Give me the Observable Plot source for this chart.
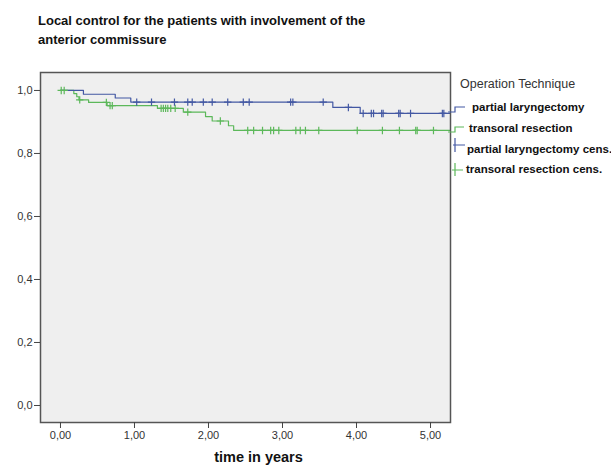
<!DOCTYPE html>
<html><head><meta charset="utf-8">
<script src="https://cdn.jsdelivr.net/npm/d3@7"></script>
<script src="https://cdn.jsdelivr.net/npm/@observablehq/plot@0.6"></script>
<style>
html,body{margin:0;padding:0;background:#fff;width:611px;height:468px;overflow:hidden;}
#wrap{position:relative;width:611px;height:468px;font-family:"Liberation Sans",Arial,sans-serif;}
#title{position:absolute;left:38px;top:11px;font-weight:bold;font-size:13px;line-height:19px;color:#111;white-space:nowrap;}
#chart{position:absolute;left:0;top:60px;}
#legend{position:absolute;left:440px;top:60px;overflow:visible;}
</style></head><body>
<div id="wrap">
<div id="title">Local control for the patients with involvement of the<br>anterior commissure</div>
<div id="chart"></div>
<svg id="legend" width="171" height="130"></svg>
</div>
<script>
// Kaplan-Meier step data (time in years, cumulative local control)
const blueTimes = [0, 0.31, 0.74, 0.95, 3.68, 4.05, 5.26];
const blueSurv  = [1.0, 0.988, 0.976, 0.963, 0.946, 0.927, 0.927];
const blueCens  = [1.03, 1.23, 1.54, 1.72, 1.78, 1.93, 2.05, 2.26, 2.47, 2.55, 3.11, 3.14, 3.55, 3.89, 4.09, 4.20, 4.23, 4.34, 4.36, 4.57, 4.59, 4.73, 5.16, 5.18];

const greenTimes = [0, 0.18, 0.22, 0.25, 0.38, 0.63, 1.31, 1.66, 1.96, 2.05, 2.27, 2.34, 5.26];
const greenSurv  = [1.0, 0.99, 0.98, 0.97, 0.962, 0.952, 0.943, 0.931, 0.917, 0.903, 0.888, 0.873, 0.873];
const greenCens  = [0.01, 0.05, 0.26, 0.62, 0.67, 0.70, 1.36, 1.39, 1.42, 1.45, 1.49, 1.55, 1.72, 2.16, 2.53, 2.61, 2.73, 2.84, 2.88, 2.95, 3.18, 3.24, 3.31, 3.49, 4.01, 4.35, 4.58, 4.80, 4.82, 5.04];

const xTicks = [0, 1, 2, 3, 4, 5];
const yTicks = [0, 0.2, 0.4, 0.6, 0.8, 1.0];

const seriesNames = ["partial laryngectomy", "transoral resection", "partial laryngectomy cens.", "transoral resection cens."];
const legendTitle = "Operation Technique";
const xLabel = "time in years";

const BLUE = "#4358a3";
const GREEN = "#5cb85a";

function survAt(times, s, t) {
  let v = s[0];
  for (let i = 0; i < times.length; i++) if (times[i] <= t) v = s[i];
  return v;
}

const blueLine = blueTimes.map((t, i) => ({t, s: blueSurv[i]}));
const greenLine = greenTimes.map((t, i) => ({t, s: greenSurv[i]}));
const blueMarks = blueCens.map(t => ({t, s: survAt(blueTimes, blueSurv, t)}));
const greenMarks = greenCens.map(t => ({t, s: survAt(greenTimes, greenSurv, t)}));

const fmtX = d => d.toFixed(2).replace(".", ",");
const fmtY = d => d.toFixed(1).replace(".", ",");

const chart = Plot.plot({
  width: 611,
  height: 408,
  marginTop: 12,
  marginLeft: 40,
  marginRight: 161,
  marginBottom: 46,
  x: {domain: [-0.27, 5.27]},
  y: {domain: [-0.054, 1.057]},
  style: {fontFamily: '"Liberation Sans", Arial, sans-serif', fontSize: "11px", color: "#333", background: "transparent"},
  marks: [
    Plot.frame({fill: "#efefef", stroke: "none"}),
    Plot.line(greenLine, {x: "t", y: "s", curve: "step-after", stroke: GREEN, strokeWidth: 1.2}),
    Plot.line(blueLine, {x: "t", y: "s", curve: "step-after", stroke: BLUE, strokeWidth: 1.2}),
    Plot.dot(greenMarks, {x: "t", y: "s", symbol: "plus", r: 2.5, stroke: GREEN, strokeWidth: 1.2}),
    Plot.dot(blueMarks, {x: "t", y: "s", symbol: "plus", r: 2.5, stroke: BLUE, strokeWidth: 1.2}),
    Plot.frame({stroke: "#555", strokeWidth: 1.5}),
    Plot.axisY({ticks: yTicks, tickFormat: fmtY, tickSize: 6, tickPadding: 2, label: null, stroke: "#444"}),
    Plot.axisX({ticks: xTicks, tickFormat: fmtX, tickSize: 6, tickPadding: 3, label: null, stroke: "#444"}),
    Plot.text([xLabel], {frameAnchor: "bottom", lineAnchor: "middle", dx: 13, dy: 35, fontWeight: "bold", fontSize: 14.5, fill: "#111"})
  ]
});
document.getElementById("chart").appendChild(chart);

// Legend
const lg = d3.select("#legend");
lg.append("text").attr("x", 20).attr("y", 28).attr("font-size", 12.5).attr("fill", "#333")
  .attr("font-family", '"Liberation Sans", Arial, sans-serif').text(legendTitle);
const items = [
  {color: BLUE, path: "M8,52H15V47H25", tx: 32, ty: 51},
  {color: GREEN, path: "M8,72H15V67H24", tx: 29, ty: 72},
  {color: BLUE, path: "M13,85H25M15,78V92", tx: 27, ty: 93},
  {color: GREEN, path: "M12,110H23M15,103V116", tx: 26, ty: 113}
];
items.forEach((it, i) => {
  lg.append("path").attr("d", it.path).attr("fill", "none").attr("stroke", it.color).attr("stroke-width", 1.2);
  lg.append("text").attr("x", it.tx).attr("y", it.ty).attr("font-size", 11.5).attr("font-weight", "bold")
    .attr("fill", "#111").attr("font-family", '"Liberation Sans", Arial, sans-serif').text(seriesNames[i]);
});
</script>
</body></html>
